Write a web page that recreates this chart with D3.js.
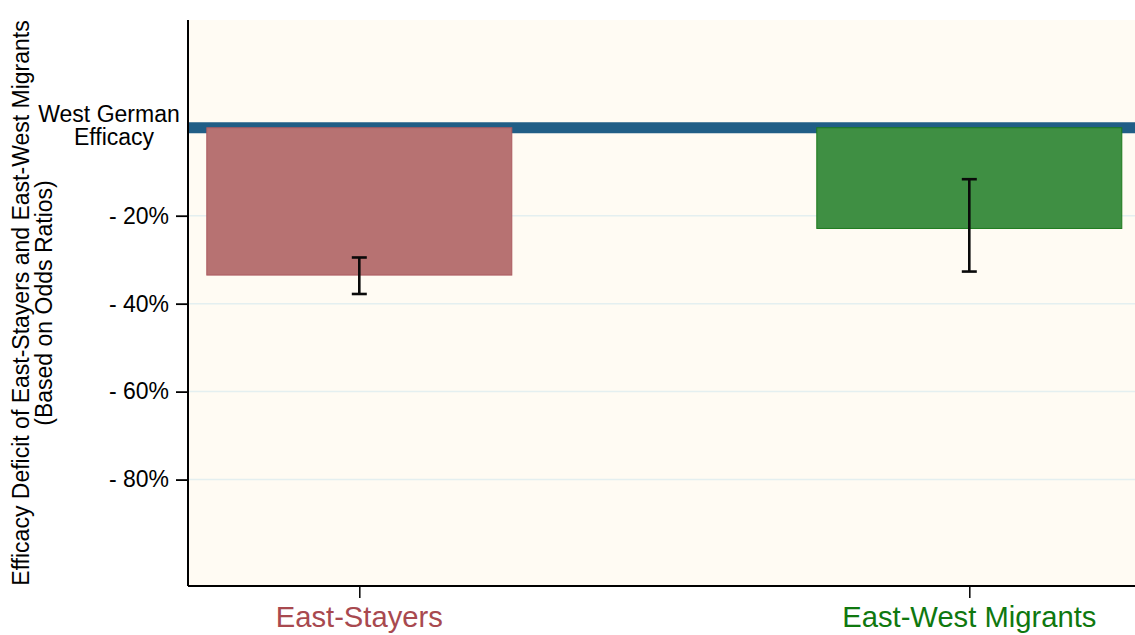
<!DOCTYPE html>
<html>
<head>
<meta charset="utf-8">
<script src="https://cdn.jsdelivr.net/npm/d3@7"></script>
<style>
  html, body { margin: 0; padding: 0; background: #ffffff; }
  svg { display: block; font-family: "Liberation Sans", Arial, Helvetica, sans-serif; }
</style>
</head>
<body>
<svg id="chart" width="1135" height="635"></svg>
<script>
// Groups and their efficacy deficit relative to West Germans (percent, from odds ratios)
const groups = ["East-Stayers", "East-West Migrants"];
const deficit = [-33.5, -22.9];
const ciUpper = [-29.5, -11.7];
const ciLower = [-37.8, -32.7];
const groupColors = ["#b77272", "#3f8f43"];
const groupStrokes = ["#ac5a60", "#1c7a1c"];
const labelColors = ["#a8494f", "#0f780f"];
const yTicks = [-20, -40, -60, -80];
const yTickLabels = ["- 20%", "- 40%", "- 60%", "- 80%"];

const svg = d3.select("#chart");
const plot = { left: 188, right: 1135, top: 20, bottom: 586 };

const y = d3.scaleLinear().domain([24.5, -104.2]).range([plot.top, plot.bottom]);
const x = d3.scaleLinear().domain([0, 1]).range([359.3, 969.3]);
const barHalf = 0.25; // half bar width in category units

// plot region background
svg.append("rect")
  .attr("x", plot.left).attr("y", plot.top)
  .attr("width", plot.right - plot.left).attr("height", plot.bottom - plot.top)
  .attr("fill", "#fffbf3");

// gridlines
svg.append("g").selectAll("line").data(yTicks).join("line")
  .attr("x1", plot.left).attr("x2", plot.right)
  .attr("y1", d => y(d)).attr("y2", d => y(d))
  .attr("stroke", "#e4eff0").attr("stroke-width", 1.5);

// West German reference line at zero
svg.append("line")
  .attr("x1", plot.left).attr("x2", plot.right)
  .attr("y1", y(0)).attr("y2", y(0))
  .attr("stroke", "#215e86").attr("stroke-width", 11);

// bars
svg.append("g").selectAll("rect").data(groups).join("rect")
  .attr("x", (d, i) => x(i - barHalf))
  .attr("width", (d, i) => x(i + barHalf) - x(i - barHalf))
  .attr("y", y(0))
  .attr("height", (d, i) => y(deficit[i]) - y(0))
  .attr("fill", (d, i) => groupColors[i])
  .attr("stroke", (d, i) => groupStrokes[i])
  .attr("stroke-width", 1);

// confidence intervals
const cap = 7.5;
const eb = svg.append("g").attr("stroke", "#0a0a0a").attr("stroke-width", 2.6);
groups.forEach((g, i) => {
  const cx = x(i);
  eb.append("line").attr("x1", cx).attr("x2", cx).attr("y1", y(ciUpper[i])).attr("y2", y(ciLower[i]));
  eb.append("line").attr("x1", cx - cap).attr("x2", cx + cap).attr("y1", y(ciUpper[i])).attr("y2", y(ciUpper[i]));
  eb.append("line").attr("x1", cx - cap).attr("x2", cx + cap).attr("y1", y(ciLower[i])).attr("y2", y(ciLower[i]));
});

// y axis
const yAxis = d3.axisLeft(y).tickValues(yTicks).tickSize(12).tickPadding(7)
  .tickFormat((d, i) => yTickLabels[i]);
const yg = svg.append("g").attr("transform", `translate(${plot.left},0)`).call(yAxis);
yg.select(".domain").attr("d", `M0,${plot.top}V${plot.bottom}`).attr("stroke", "#000").attr("stroke-width", 2);
yg.selectAll(".tick line").attr("stroke", "#000").attr("stroke-width", 1.8);
yg.selectAll(".tick text").attr("font-size", 23).attr("fill", "#000")
  .attr("font-family", "'Liberation Sans', Arial, sans-serif");

// x axis
const xAxis = d3.axisBottom(x).tickValues([0, 1]).tickSize(12).tickFormat(() => "");
const xg = svg.append("g").attr("transform", `translate(0,${plot.bottom})`).call(xAxis);
xg.select(".domain").attr("d", `M${plot.left},0H${plot.right}`).attr("stroke", "#000").attr("stroke-width", 2);
xg.selectAll(".tick line").attr("stroke", "#000").attr("stroke-width", 1.5);

// category labels
svg.append("g").selectAll("text").data(groups).join("text")
  .attr("x", (d, i) => x(i)).attr("y", 627)
  .attr("text-anchor", "middle").attr("font-size", 29.2)
  .attr("fill", (d, i) => labelColors[i])
  .text(d => d);

// reference line label
const ref = svg.append("text").attr("font-size", 23).attr("fill", "#000").attr("text-anchor", "middle");
ref.append("tspan").attr("x", 109).attr("y", 121.5).text("West German");
ref.append("tspan").attr("x", 114).attr("y", 145).text("Efficacy");

// y axis title
const yt = svg.append("text").attr("font-size", 23).attr("fill", "#000").attr("text-anchor", "middle")
  .attr("transform", `translate(0,${(plot.top + plot.bottom) / 2}) rotate(-90)`);
yt.append("tspan").attr("x", 0).attr("y", 29).text("Efficacy Deficit of East-Stayers and East-West Migrants");
yt.append("tspan").attr("x", 0).attr("y", 52).text("(Based on Odds Ratios)");
</script>
</body>
</html>
